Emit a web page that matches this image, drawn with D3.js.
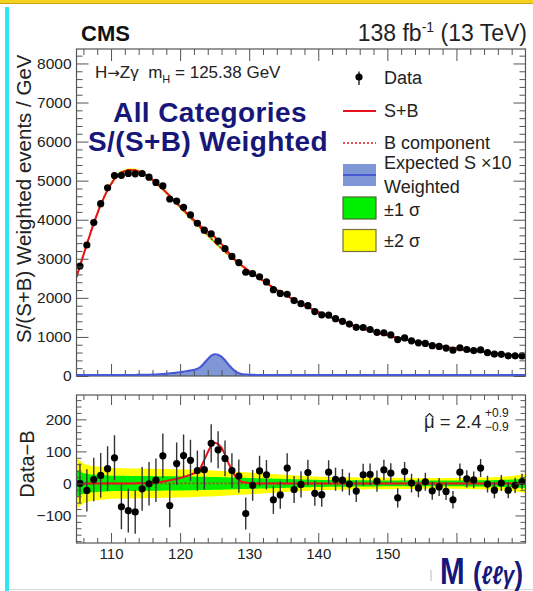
<!DOCTYPE html>
<html>
<head>
<meta charset="utf-8">
<script src="https://cdn.jsdelivr.net/npm/d3@7"></script>
<style>
  body { margin: 0; background: #fff; }
  svg { display: block; }
  text { font-family: "Liberation Sans", Arial, Helvetica, sans-serif; white-space: pre; }
</style>
</head>
<body>
<svg id="chart" width="533" height="591"></svg>
<script>
// ---- data: H->Zgamma, all categories, S/(S+B) weighted ----
const massRange = [105, 170];
const binCenters = d3.range(105.5, 170, 1);

// weighted events per GeV in each 1 GeV bin
const dataWeighted = [
  2815, 3353, 3927, 4410, 4816, 5130, 5137, 5185, 5176, 5183,
  5089, 4955, 4866, 4531, 4477, 4317, 4122, 3910, 3733, 3640,
  3450, 3258, 3060, 2903, 2656, 2619, 2539, 2407, 2209, 2114,
  2093, 1931, 1852, 1799, 1649, 1565, 1560, 1468, 1400, 1328,
  1246, 1242, 1190, 1119, 1107, 1052, 933, 975, 901, 850,
  835, 775, 757, 715, 662, 723, 678, 652, 668, 598,
  560, 556, 517, 516, 513
];
// statistical uncertainty of each weighted bin
const dataError = [
  62, 66, 68, 70, 70, 70, 70, 68, 68, 68,
  68, 68, 70, 68, 66, 66, 64, 63, 62, 60,
  58, 56, 54, 52, 50, 48, 47, 46, 44, 43,
  46, 42, 41, 40, 39, 38, 37, 36, 35, 35,
  34, 34, 34, 33, 32, 31, 30, 30, 29, 29,
  28, 28, 28, 27, 27, 27, 27, 26, 28, 26,
  25, 25, 25, 24, 24
];
// background component of the S+B fit at the bin centres
const bkgFit = [
  2815, 3375, 3915, 4385, 4770, 5050, 5210, 5270, 5265, 5200,
  5090, 4945, 4780, 4600, 4415, 4230, 4050, 3870, 3690, 3515,
  3345, 3180, 3020, 2880, 2750, 2625, 2500, 2380, 2260, 2150,
  2045, 1950, 1855, 1765, 1680, 1600, 1525, 1455, 1390, 1330,
  1270, 1215, 1162, 1112, 1065, 1020, 978, 938, 900, 864,
  830, 798, 768, 740, 713, 688, 664, 641, 620, 600,
  581, 555, 538, 522, 507
];
// expected signal (mu = 1) shape, weighted events per GeV
const sigMass = [113, 115, 116, 117, 118, 119, 120, 121, 122, 122.5, 123, 123.5, 124,
                 124.5, 125, 125.5, 126, 126.5, 127, 127.5, 128, 128.5, 129, 130, 131, 133];
const sigExpected = [0, 0.2, 0.8, 1.6, 3.2, 4.9, 7.0, 9.7, 13.0, 15.5, 21.0, 30.5, 40.5,
                     49.5, 53.0, 51.5, 46.5, 37.5, 26.5, 17.0, 9.0, 4.2, 1.8, 0.4, 0, 0];
const sigScale = 10;
const muHat = 2.4, muUp = 0.9, muDown = 0.9;
// background-fit uncertainty bands (half widths)
const bandMass = [105, 106, 107, 110, 115, 120, 125, 130, 135, 140, 145, 150, 155, 160, 165, 168, 170];
const band1 = [42, 32, 28, 24, 23, 22, 20, 17, 14, 11, 10, 9, 9, 9, 10, 12, 15];
const band2 = [80, 62, 55, 48, 46, 44, 40, 34, 27, 21, 19, 18, 17, 17, 19, 23, 30];

const xMajorTicks = [110, 120, 130, 140, 150, 160];
const xTickLabels = ["110", "120", "130", "140", "150", ""];
const topMajorTicks = [0, 1000, 2000, 3000, 4000, 5000, 6000, 7000, 8000];
const botMajorTicks = [-100, 0, 100, 200];

// ---- layout ----
const svg = d3.select("#chart");
const X0 = 76.5, X1 = 525.5;
const TOP = { y0: 49, y1: 376 };
const BOT = { y0: 395, y1: 543 };
const RED = "#e8131b", NAVY = "#17177a", GRID = "#555";

// page trim
svg.append("rect").attr("x", 0).attr("y", 0).attr("width", 533).attr("height", 591).attr("fill", "#fff");
svg.append("rect").attr("x", 0).attr("y", 0).attr("width", 533).attr("height", 3).attr("fill", "#f4d21e");
svg.append("rect").attr("x", 0).attr("y", 3).attr("width", 533).attr("height", 1).attr("fill", "#c9a316");
svg.append("rect").attr("x", 5).attr("y", 7).attr("width", 4).attr("height", 584).attr("fill", "#2ee6f0");
svg.append("rect").attr("x", 9).attr("y", 589).attr("width", 524).attr("height", 1).attr("fill", "#d8d8d8");

const x = d3.scaleLinear(massRange, [X0, X1]);
const yTop = d3.scaleLinear([0, 8370], [TOP.y1, TOP.y0]);
const yBot = d3.scaleLinear([-186, 276], [BOT.y1, BOT.y0]);

const bkgAt = d3.scaleLinear(binCenters, bkgFit);
const sigAt = d3.scaleLinear(sigMass, sigExpected).clamp(true);
const b1At = d3.scaleLinear(bandMass, band1);
const b2At = d3.scaleLinear(bandMass, band2);
const grid = d3.range(massRange[0], massRange[1] + 0.001, 0.1);

const defs = svg.append("defs");
defs.append("clipPath").attr("id", "clipTop").append("rect")
  .attr("x", X0).attr("y", TOP.y0).attr("width", X1 - X0).attr("height", TOP.y1 - TOP.y0);
defs.append("clipPath").attr("id", "clipBot").append("rect")
  .attr("x", X0).attr("y", BOT.y0).attr("width", X1 - X0).attr("height", BOT.y1 - BOT.y0);

// ---- upper panel ----
const gTop = svg.append("g").attr("clip-path", "url(#clipTop)");
const areaTop = (w, k) => d3.area().x(m => x(m))
  .y0(m => yTop(bkgAt(m) - k * w(m))).y1(m => yTop(bkgAt(m) + k * w(m)));
gTop.append("path").datum(grid).attr("d", areaTop(b2At, 1)).attr("fill", "#ffff00");
gTop.append("path").datum(grid).attr("d", areaTop(b1At, 1)).attr("fill", "#00ee00");

gTop.append("path").datum(grid)
  .attr("d", d3.area().x(m => x(m)).y0(yTop(0)).y1(m => yTop(sigScale * sigAt(m))).curve(d3.curveMonotoneX))
  .attr("fill", "#7f97d6");

gTop.append("path").datum(grid)
  .attr("d", d3.line().x(m => x(m)).y(m => yTop(bkgAt(m))).curve(d3.curveMonotoneX))
  .attr("fill", "none").attr("stroke", RED).attr("stroke-width", 1.6).attr("stroke-dasharray", "2,2");
gTop.append("path").datum(grid)
  .attr("d", d3.line().x(m => x(m)).y(m => yTop(bkgAt(m) + muHat * sigAt(m))).curve(d3.curveMonotoneX))
  .attr("fill", "none").attr("stroke", RED).attr("stroke-width", 2);

const ptsTop = gTop.append("g").selectAll("g").data(binCenters).join("g");
ptsTop.append("line")
  .attr("x1", m => x(m)).attr("x2", m => x(m))
  .attr("y1", (m, i) => yTop(dataWeighted[i] - dataError[i]))
  .attr("y2", (m, i) => yTop(dataWeighted[i] + dataError[i]))
  .attr("stroke", "#222").attr("stroke-width", 1.4);
ptsTop.append("circle")
  .attr("cx", m => x(m)).attr("cy", (m, i) => yTop(dataWeighted[i]))
  .attr("r", 3.6).attr("fill", "#000");

// ---- lower panel (Data - B) ----
const gBot = svg.append("g").attr("clip-path", "url(#clipBot)");
const areaBot = w => d3.area().x(m => x(m)).y0(m => yBot(-w(m))).y1(m => yBot(w(m)));
gBot.append("path").datum(grid).attr("d", areaBot(b2At)).attr("fill", "#ffff00");
gBot.append("path").datum(grid).attr("d", areaBot(b1At)).attr("fill", "#00ee00");
gBot.append("line").attr("x1", X0).attr("x2", X1).attr("y1", yBot(0)).attr("y2", yBot(0))
  .attr("stroke", "#c0392b").attr("stroke-width", 1.6).attr("stroke-dasharray", "2,2");
gBot.append("path").datum(grid)
  .attr("d", d3.line().x(m => x(m)).y(m => yBot(muHat * sigAt(m))).curve(d3.curveMonotoneX))
  .attr("fill", "none").attr("stroke", RED).attr("stroke-width", 2);

const ptsBot = gBot.append("g").selectAll("g").data(binCenters).join("g");
ptsBot.append("line")
  .attr("x1", m => x(m)).attr("x2", m => x(m))
  .attr("y1", (m, i) => yBot(dataWeighted[i] - bkgFit[i] - dataError[i]))
  .attr("y2", (m, i) => yBot(dataWeighted[i] - bkgFit[i] + dataError[i]))
  .attr("stroke", "#333").attr("stroke-width", 1.4);
ptsBot.append("circle")
  .attr("cx", m => x(m)).attr("cy", (m, i) => yBot(dataWeighted[i] - bkgFit[i]))
  .attr("r", 3.6).attr("fill", "#000");

// ---- frames and axes ----
function styleAxis(g, fontSize) {
  g.select(".domain").remove();
  g.selectAll(".tick line").attr("stroke", GRID).attr("stroke-width", 1);
  g.selectAll(".tick text").attr("fill", "#222").style("font-size", fontSize + "px")
    .style("font-family", '"Liberation Sans", Arial, sans-serif');
}
function panelAxes(y, box, majorY, minorStep, majLen, minLen, xLabels) {
  const minorY = d3.range(Math.ceil(y.domain()[0] / minorStep) * minorStep, y.domain()[1], minorStep)
    .filter(v => !majorY.includes(v));
  const minorX = d3.range(106, 170, 2).filter(v => !xMajorTicks.includes(v));
  // y ticks
  svg.append("g").attr("transform", `translate(${X0},0)`)
    .call(d3.axisLeft(y).tickValues(majorY).tickSize(-majLen).tickPadding(5).tickFormat(d3.format("d")))
    .call(g => styleAxis(g, 15.5));
  svg.append("g").attr("transform", `translate(${X0},0)`)
    .call(d3.axisLeft(y).tickValues(minorY).tickSize(-minLen).tickFormat(""))
    .call(g => styleAxis(g, 15));
  svg.append("g").attr("transform", `translate(${X1},0)`)
    .call(d3.axisRight(y).tickValues(majorY).tickSize(-majLen).tickFormat(""))
    .call(g => styleAxis(g, 15));
  svg.append("g").attr("transform", `translate(${X1},0)`)
    .call(d3.axisRight(y).tickValues(minorY).tickSize(-minLen).tickFormat(""))
    .call(g => styleAxis(g, 15));
  // x ticks
  svg.append("g").attr("transform", `translate(0,${box.y0})`)
    .call(d3.axisTop(x).tickValues(xMajorTicks).tickSize(-majLen).tickFormat(""))
    .call(g => styleAxis(g, 15));
  svg.append("g").attr("transform", `translate(0,${box.y0})`)
    .call(d3.axisTop(x).tickValues(minorX).tickSize(-minLen).tickFormat(""))
    .call(g => styleAxis(g, 15));
  svg.append("g").attr("transform", `translate(0,${box.y1})`)
    .call(d3.axisBottom(x).tickValues(xMajorTicks).tickSize(-majLen).tickPadding(5)
      .tickFormat((d, i) => xLabels ? xTickLabels[i] : ""))
    .call(g => styleAxis(g, 15));
  svg.append("g").attr("transform", `translate(0,${box.y1})`)
    .call(d3.axisBottom(x).tickValues(minorX).tickSize(-minLen).tickFormat(""))
    .call(g => styleAxis(g, 15));
  svg.append("rect").attr("x", X0).attr("y", box.y0).attr("width", X1 - X0).attr("height", box.y1 - box.y0)
    .attr("fill", "none").attr("stroke", GRID).attr("stroke-width", 1.2);
}
panelAxes(yTop, TOP, topMajorTicks, 200, 12, 6, false);
panelAxes(yBot, BOT, botMajorTicks, 20, 10, 5, true);

// expected signal outline, kept on top of the frame so its zero baseline stays visible
svg.append("path").datum(grid)
  .attr("d", d3.line().x(m => x(m)).y(m => yTop(sigScale * sigAt(m)) - 1).curve(d3.curveMonotoneX))
  .attr("fill", "none").attr("stroke", "#4658d2").attr("stroke-width", 2.2);

// axis titles
svg.append("text").attr("transform", "translate(31,343) rotate(-90)")
  .attr("text-anchor", "start").style("font-size", "20.5px").attr("fill", "#222")
  .text("S/(S+B) Weighted events / GeV");
svg.append("text").attr("transform", "translate(34,464) rotate(-90)")
  .attr("text-anchor", "middle").style("font-size", "20px").attr("fill", "#222")
  .text("Data\u2212B");

// header
svg.append("text").attr("x", 81).attr("y", 41).style("font-size", "22px").style("font-weight", "bold")
  .attr("fill", "#111").text("CMS");
const lumi = svg.append("text").attr("x", 527).attr("y", 41).attr("text-anchor", "end")
  .style("font-size", "23px").attr("fill", "#222");
lumi.append("tspan").text("138 fb");
lumi.append("tspan").attr("dy", -9).style("font-size", "14px").text("-1");
lumi.append("tspan").attr("dy", 9).text(" (13 TeV)");

// process label
const proc = svg.append("text").attr("x", 95).attr("y", 78).style("font-size", "17px").attr("fill", "#222");
proc.append("tspan").text("H");
proc.append("tspan").style("font-family", '"DejaVu Sans", sans-serif').style("font-size", "15px").text("\u2192");
proc.append("tspan").text("Z\u03b3  m");
proc.append("tspan").attr("dy", 5).style("font-size", "11px").text("H");
proc.append("tspan").attr("dy", -5).text(" = 125.38 GeV");

svg.append("text").attr("x", 210).attr("y", 122).attr("text-anchor", "middle")
  .style("font-size", "28px").style("letter-spacing", "0.4px").style("font-weight", "bold")
  .attr("fill", NAVY).text("All Categories");
svg.append("text").attr("x", 208).attr("y", 151).attr("text-anchor", "middle")
  .style("font-size", "28px").style("letter-spacing", "0.4px").style("font-weight", "bold")
  .attr("fill", NAVY).text("S/(S+B) Weighted");

// legend
const lg = svg.append("g");
const lx0 = 343, lx1 = 376, tx = 384;
lg.append("line").attr("x1", 359).attr("x2", 359).attr("y1", 71.5).attr("y2", 85).attr("stroke", "#222").attr("stroke-width", 1.4);
lg.append("circle").attr("cx", 359).attr("cy", 77).attr("r", 3.6).attr("fill", "#000");
lg.append("text").attr("x", tx).attr("y", 84).text("Data");
lg.append("line").attr("x1", lx0).attr("x2", lx1).attr("y1", 111).attr("y2", 111).attr("stroke", RED).attr("stroke-width", 2);
lg.append("text").attr("x", tx).attr("y", 117).text("S+B");
lg.append("line").attr("x1", lx0).attr("x2", lx1).attr("y1", 143).attr("y2", 143).attr("stroke", RED)
  .attr("stroke-width", 1.6).attr("stroke-dasharray", "2,2");
lg.append("text").attr("x", tx).attr("y", 149).text("B component");
lg.append("rect").attr("x", lx0).attr("y", 164).attr("width", lx1 - lx0).attr("height", 22).attr("fill", "#7f97d6");
lg.append("line").attr("x1", lx0).attr("x2", lx1).attr("y1", 175).attr("y2", 175).attr("stroke", "#4658d2").attr("stroke-width", 2);
lg.append("text").attr("x", tx).attr("y", 169).text("Expected S \u00d710");
lg.append("text").attr("x", tx).attr("y", 193).text("Weighted");
lg.append("rect").attr("x", lx0).attr("y", 197).attr("width", lx1 - lx0).attr("height", 22)
  .attr("fill", "#00ee00").attr("stroke", "#4d6b2e").attr("stroke-width", 1.2);
lg.append("text").attr("x", tx).attr("y", 216).text("\u00b11 \u03c3");
lg.append("rect").attr("x", lx0).attr("y", 229.5).attr("width", lx1 - lx0).attr("height", 22)
  .attr("fill", "#ffff00").attr("stroke", "#77703a").attr("stroke-width", 1.2);
lg.append("text").attr("x", tx).attr("y", 247).text("\u00b12 \u03c3");
lg.selectAll("text").style("font-size", "18px").attr("fill", "#222");

// fitted signal strength
const mu = svg.append("g").attr("fill", "#222");
mu.append("text").attr("x", 424).attr("y", 428).style("font-size", "18.5px").text("\u03bc = " + muHat.toFixed(1));
mu.append("path").attr("d", "M425.5,417.5 L429.5,413.5 L433.5,417.5")
  .attr("fill", "none").attr("stroke", "#222").attr("stroke-width", 1.2);
mu.append("text").attr("x", 485).attr("y", 417).style("font-size", "12px").text("+" + muUp.toFixed(1));
mu.append("text").attr("x", 485).attr("y", 431).style("font-size", "12px").text("\u2212" + muDown.toFixed(1));

// x-axis title
svg.append("line").attr("x1", 431).attr("x2", 431).attr("y1", 570).attr("y2", 581).attr("stroke", "#bbb");
const mt = svg.append("text").attr("transform", "translate(440,584) scale(0.8,1)")
  .attr("fill", NAVY).style("font-weight", "bold");
mt.append("tspan").style("font-size", "37px").text("M ");
mt.append("tspan").style("font-size", "32px").text("(");
mt.append("tspan").style("font-size", "26px").style("font-style", "italic").text("\u2113\u2113\u03b3");
mt.append("tspan").style("font-size", "32px").text(")");
</script>
</body>
</html>
